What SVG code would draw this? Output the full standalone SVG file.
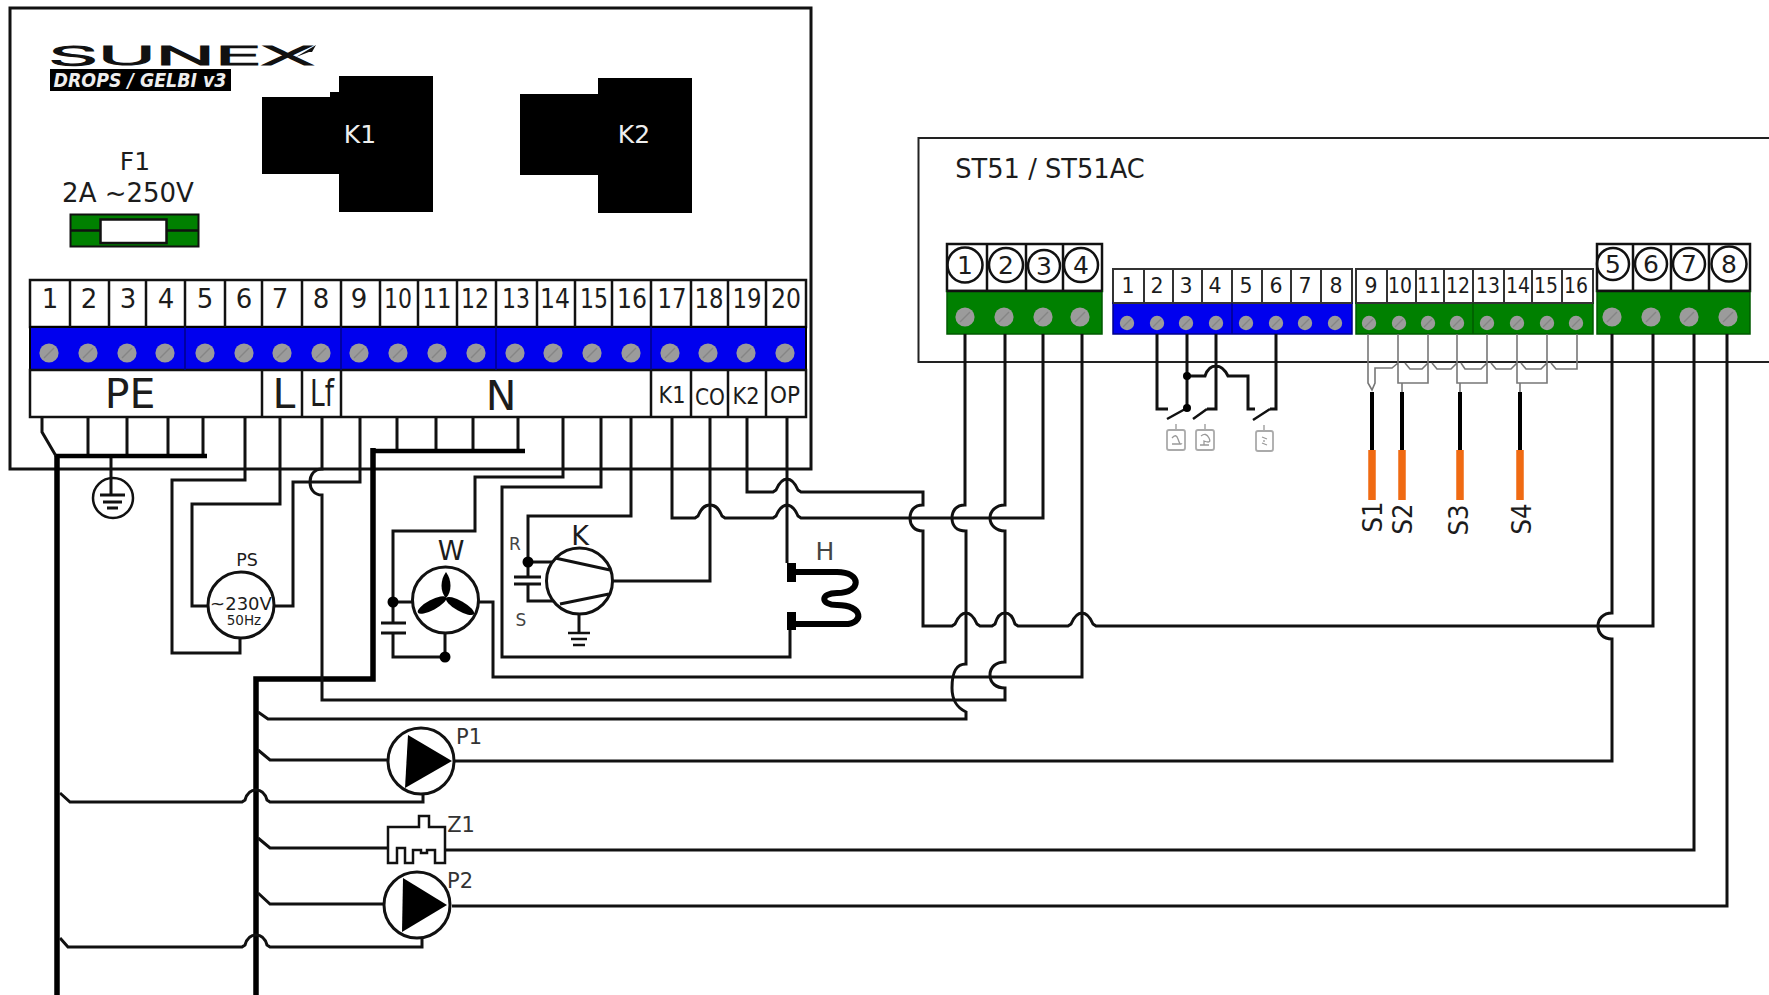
<svg xmlns="http://www.w3.org/2000/svg" width="1769" height="995" viewBox="0 0 1769 995">
<style>
text{font-family:"DejaVu Sans",sans-serif;fill:#1c1c1c;text-anchor:middle}
.n26{font-size:26px}.n20{font-size:20.5px}.n25{font-size:25px}.lab{font-size:41px}.small{font-size:23px}
.box{fill:#fff;stroke:#111;stroke-width:3}
.thin{stroke:#111;stroke-width:2.5;fill:none}
.cell{fill:#fff;stroke:#111;stroke-width:2.5}
.scell{fill:#fff;stroke:#333;stroke-width:2}
.blue{fill:#0000ee;stroke:#00008a;stroke-width:1.5}
.green{fill:#008000;stroke:#005a00;stroke-width:1.5}
.w{fill:none;stroke:#111;stroke-width:3;stroke-linejoin:miter}
.t{fill:none;stroke:#000;stroke-width:5.5}
.g{fill:none;stroke:#777;stroke-width:1.6}
.sym{fill:#fff;stroke:#111;stroke-width:3}
.rel{fill:#fff;stroke:#aaa;stroke-width:1.8}
.mk{fill:none;stroke:#999;stroke-width:1.3}
.wh{fill:#eee}
</style>
<defs>
<g id="s"><circle r="9.6" fill="#9b9b9b"/><path d="M-5 5L5-5" stroke="#858585" stroke-width="1.5"/></g>
<g id="ss"><circle r="7.2" fill="#9b9b9b"/><path d="M-4 4L4-4" stroke="#858585" stroke-width="1.3"/></g>
</defs>

<g id="controller">
<rect class="box" x="10" y="8" width="801" height="461"/>
<g id="logo">
<text x="181" y="65" font-size="25" textLength="265" lengthAdjust="spacingAndGlyphs" stroke="#111" stroke-width="1.2" style="font-family:Inter,sans-serif;font-weight:300;fill:#111">SUNEX</text>
<path d="M296 57L316 45L312 52L309 52Z" fill="#111"/>
<rect x="50" y="69" width="181" height="22" fill="#000"/>
<text class="wh" x="140" y="87" font-size="19" font-style="italic" font-weight="bold" textLength="173" lengthAdjust="spacingAndGlyphs">DROPS / GELBI v3</text>
</g>
<g id="K1"><path d="M262 97H330V92H339V76H433V212H339V174H262Z" fill="#000"/><text class="n25 wh" x="360" y="143">K1</text></g>
<g id="K2"><path d="M520 94H598V78H692V213H598V175H520Z" fill="#000"/><text class="n25 wh" x="634" y="143">K2</text></g>
<g id="F1">
<text class="n25" x="135" y="170">F1</text>
<text x="128" y="202" font-size="26">2A ~250V</text>
<rect x="70.500" y="214.500" width="128" height="32" fill="#008000" stroke="#111" stroke-width="2"/>
<path d="M70 230.500H199" stroke="#111" stroke-width="2.500"/>
<rect x="100.500" y="219.500" width="66" height="23.500" fill="#fff" stroke="#111" stroke-width="2.500"/>
</g>
</g>

<g id="main-terminal">
<rect class="cell" x="30" y="280" width="776" height="47"/>
<rect class="blue" x="30" y="327" width="776" height="43" style="stroke:#000;stroke-width:2"/>
<rect class="cell" x="30" y="370" width="776" height="47"/>
<path class="thin" d="M70 280V327M109 280V327M146 280V327M185 280V327M225 280V327M262 280V327M302 280V327M341 280V327M380 280V327M418 280V327M457 280V327M496 280V327M537 280V327M575 280V327M612 280V327M651 280V327M691 280V327M728 280V327M766 280V327M262 370V417M302 370V417M341 370V417M651 370V417M691 370V417M728 370V417M766 370V417"/>
<path d="M185 327V370M341 327V370M496 327V370M651 327V370" stroke="#00008a" stroke-width="1.500"/>
<g class="n26">
<text x="50" y="308">1</text><text x="89" y="308">2</text><text x="128" y="308">3</text><text x="166" y="308">4</text><text x="205" y="308">5</text><text x="244" y="308">6</text><text x="280" y="308">7</text><text x="321" y="308">8</text><text x="359" y="308">9</text>
<text x="398" y="308" textLength="28" lengthAdjust="spacingAndGlyphs">10</text><text x="437" y="308" textLength="29" lengthAdjust="spacingAndGlyphs">11</text><text x="475" y="308" textLength="28" lengthAdjust="spacingAndGlyphs">12</text><text x="516" y="308" textLength="28" lengthAdjust="spacingAndGlyphs">13</text><text x="555" y="308" textLength="30" lengthAdjust="spacingAndGlyphs">14</text><text x="594" y="308" textLength="28" lengthAdjust="spacingAndGlyphs">15</text><text x="632" y="308" textLength="30" lengthAdjust="spacingAndGlyphs">16</text><text x="672" y="308" textLength="29" lengthAdjust="spacingAndGlyphs">17</text><text x="709" y="308" textLength="29" lengthAdjust="spacingAndGlyphs">18</text><text x="747" y="308" textLength="29" lengthAdjust="spacingAndGlyphs">19</text><text x="786" y="308" textLength="30" lengthAdjust="spacingAndGlyphs">20</text>
</g>
<use href="#s" x="49" y="353"/><use href="#s" x="88" y="353"/><use href="#s" x="127" y="353"/><use href="#s" x="165" y="353"/><use href="#s" x="205" y="353"/><use href="#s" x="244" y="353"/><use href="#s" x="282" y="353"/><use href="#s" x="321" y="353"/><use href="#s" x="359" y="353"/><use href="#s" x="398" y="353"/><use href="#s" x="437" y="353"/><use href="#s" x="476" y="353"/><use href="#s" x="515" y="353"/><use href="#s" x="553" y="353"/><use href="#s" x="592" y="353"/><use href="#s" x="631" y="353"/><use href="#s" x="670" y="353"/><use href="#s" x="708" y="353"/><use href="#s" x="746" y="353"/><use href="#s" x="785" y="353"/>
<text class="lab" x="130" y="408">PE</text><text class="lab" x="284" y="408">L</text>
<text class="lab" x="322" y="406" textLength="24" lengthAdjust="spacingAndGlyphs" style="font-size:38px">Lf</text><text class="lab" x="501" y="410">N</text>
<text class="small" x="672" y="403" textLength="27" lengthAdjust="spacingAndGlyphs">K1</text><text class="small" x="710" y="405" textLength="30" lengthAdjust="spacingAndGlyphs">CO</text><text class="small" x="746" y="404" textLength="27" lengthAdjust="spacingAndGlyphs">K2</text><text class="small" x="785" y="403" textLength="30" lengthAdjust="spacingAndGlyphs">OP</text>
</g>

<g id="st51">
<path d="M1769 138H918.500V362H1769" fill="#fff" stroke="#222" stroke-width="2"/>
<text x="1050" y="178" font-size="25.700">ST51 / ST51AC</text>
<g id="st-block-1-4">
<rect class="cell" x="947" y="244" width="155" height="47"/>
<rect class="green" x="947" y="291" width="155" height="43"/>
<path class="thin" d="M987 244V291M1026 244V291M1063 244V291M947 291H1102"/>
<g fill="none" stroke="#111" stroke-width="2.500"><circle cx="965" cy="265" r="17.500"/><circle cx="1006" cy="265" r="17"/><circle cx="1044" cy="266" r="16"/><circle cx="1081" cy="265" r="17"/></g>
<g class="n25"><text x="965" y="274">1</text><text x="1006" y="274">2</text><text x="1044" y="275">3</text><text x="1081" y="274">4</text></g>
<use href="#s" x="965" y="317"/><use href="#s" x="1004" y="317"/><use href="#s" x="1043" y="317"/><use href="#s" x="1080" y="317"/>
</g>
<g id="st-block-blue">
<rect class="scell" x="1113" y="269" width="239" height="34"/>
<rect class="blue" x="1113" y="303" width="239" height="31"/>
<path d="M1144 269V303M1173 269V303M1202 269V303M1232 269V303M1262 269V303M1291 269V303M1321 269V303M1113 303H1352" stroke="#333" stroke-width="2"/>
<path d="M1232 303V334" stroke="#00008a" stroke-width="1.500"/>
<g class="n20"><text x="1128" y="293">1</text><text x="1157" y="293">2</text><text x="1186" y="293">3</text><text x="1215" y="293">4</text><text x="1246" y="293">5</text><text x="1276" y="293">6</text><text x="1305" y="293">7</text><text x="1336" y="293">8</text></g>
<use href="#ss" x="1127" y="323"/><use href="#ss" x="1157" y="323"/><use href="#ss" x="1186" y="323"/><use href="#ss" x="1216" y="323"/><use href="#ss" x="1246" y="323"/><use href="#ss" x="1276" y="323"/><use href="#ss" x="1305" y="323"/><use href="#ss" x="1335" y="323"/>
</g>
<g id="st-block-green">
<rect class="scell" x="1356" y="269" width="237" height="34"/>
<rect class="green" x="1356" y="303" width="237" height="31"/>
<path d="M1387 269V303M1416 269V303M1444 269V303M1473 269V303M1504 269V303M1532 269V303M1562 269V303M1356 303H1593" stroke="#333" stroke-width="2"/>
<path d="M1473 303V334" stroke="#005a00" stroke-width="1.500"/>
<g class="n20"><text x="1371" y="293">9</text><text x="1400" y="293" textLength="24" lengthAdjust="spacingAndGlyphs">10</text><text x="1429" y="293" textLength="24" lengthAdjust="spacingAndGlyphs">11</text><text x="1458" y="293" textLength="24" lengthAdjust="spacingAndGlyphs">12</text><text x="1488" y="293" textLength="24" lengthAdjust="spacingAndGlyphs">13</text><text x="1518" y="293" textLength="24" lengthAdjust="spacingAndGlyphs">14</text><text x="1546" y="293" textLength="24" lengthAdjust="spacingAndGlyphs">15</text><text x="1576" y="293" textLength="24" lengthAdjust="spacingAndGlyphs">16</text></g>
<use href="#ss" x="1369" y="323"/><use href="#ss" x="1399" y="323"/><use href="#ss" x="1428" y="323"/><use href="#ss" x="1457" y="323"/><use href="#ss" x="1487" y="323"/><use href="#ss" x="1517" y="323"/><use href="#ss" x="1547" y="323"/><use href="#ss" x="1576" y="323"/>
</g>
<g id="st-block-5-8">
<rect class="cell" x="1597" y="244" width="153" height="47"/>
<rect class="green" x="1597" y="291" width="153" height="43"/>
<path class="thin" d="M1633 244V291M1671 244V291M1709 244V291M1597 291H1750"/>
<g fill="none" stroke="#111" stroke-width="2.500"><circle cx="1613" cy="264" r="16"/><circle cx="1651" cy="264" r="16"/><circle cx="1689" cy="264" r="16"/><circle cx="1729" cy="264" r="17.500"/></g>
<g class="n25"><text x="1613" y="273">5</text><text x="1651" y="273">6</text><text x="1689" y="273">7</text><text x="1729" y="273">8</text></g>
<use href="#s" x="1612" y="317"/><use href="#s" x="1651" y="317"/><use href="#s" x="1689" y="317"/><use href="#s" x="1728" y="317"/>
</g>
</g>

<g id="connectors">
<path class="w" d="M42 417V432L56 456M88 417V456M127 417V456M168 417V456M203 417V456M111 456V495"/>
<path class="w" d="M397 417V451M436 417V451M473 417V451M518 417V451"/>
<path d="M56 456H207M373 451H525" fill="none" stroke="#000" stroke-width="4.500"/>
<path class="t" d="M57 456V995M256 995V679H373V448"/>
<path class="w" d="M245 417V480H172V653H240V637"/>
<path class="w" d="M280 417V504H192V606H208"/>
<path class="w" d="M275 606H293V482H360V417"/>
<path class="w" d="M322 417V469C314 469 310 475 310 482C310 489 314 495 322 495V700H1005V688C996 688 990 683 990 675C990 667 996 662 1005 662V531C996 531 990 525 990 518C990 511 996 505 1005 505V334"/>
<path class="w" d="M965 334V505C956 505 952 511 952 518C952 525 956 531 966 531V664C956 664 952 672 952 688C952 702 958 708 966 712V719H268L258 712"/>
<path class="w" d="M1043 334V518H801L798 516C795 509 792 505 787 505C782 505 779 509 776 516L773 518H725L722 516C719 509 716 505 710 505C704 505 701 509 698 516L695 518H672V417"/>
<path class="w" d="M1082 334V677H493V602H479"/>
<path class="w" d="M747 417V492H773L776 490C779 483 782 479 787 479C792 479 795 483 798 490L801 492H923V505C914 505 910 511 910 518C910 525 914 531 923 531V626H952L955 624C958 617 961 613 966 613C971 613 974 617 977 624L980 626H992L995 624C997 617 1000 613 1005 613C1010 613 1013 617 1015 624L1018 626H1068L1071 624C1074 617 1077 613 1082 613C1087 613 1090 617 1093 624L1096 626H1653V334"/>
<path class="w" d="M1612 334V613C1603 613 1598 619 1598 626C1598 633 1603 639 1612 639V761H455"/>
<path class="w" d="M1694 334V850H445M1727 334V906H452"/>
<path class="w" d="M710 417V581H613M787 417V563"/>
<path class="w" d="M790 630V657H502V487H601V417"/>
<path class="w" d="M563 417V477H475V531H393V623M393 633V657H445V632M393 602H412"/>
<path class="w" d="M631 417V516H528V577M528 584V601H553M528 562H553"/>
<path class="w" d="M258 750L270 760H387M258 838L270 848H388M258 893L270 904H383"/>
<path class="w" d="M60 793L70 802H242L245 800C247 793 250 790 256 790C262 790 265 793 267 800L270 802H423V793"/>
<path class="w" d="M60 938L68 947H242L245 945C247 938 250 935 256 935C262 935 265 938 267 945L270 947H422V937"/>
<path class="w" d="M1157 334V409H1168M1187 334V408M1187 376H1205C1207 370 1211 366 1216 366C1221 366 1225 370 1228 376H1248V409H1255M1216 334V409H1207M1276 334V409H1270"/>
<path class="g" d="M1368 334V383L1372 390L1375 383V368H1392L1398 363M1398 334V383H1428V334M1405 363L1410 369H1422L1428 363M1432 363L1437 369H1451L1457 363M1457 334V383H1487V334M1460 383V392M1461 363L1465 369H1481L1487 363M1491 363L1496 369H1511L1517 363M1517 334V383H1547V334M1520 383V392M1521 363L1526 369H1541L1547 363M1551 363L1556 369H1577V334M1402 383V392"/>
</g>

<g id="earth"><circle cx="113" cy="498" r="20" fill="none" stroke="#111" stroke-width="2.500"/><path d="M100 495H125M103 502H122M107 508H118" stroke="#111" stroke-width="3"/></g>
<g id="PS"><circle class="sym" cx="241" cy="605" r="33"/><text x="247" y="566" font-size="17.500">PS</text><text x="241" y="610" font-size="18">~230V</text><text x="244" y="625" font-size="13.500">50Hz</text></g>
<g id="W">
<circle class="sym" cx="445.500" cy="600" r="33"/>
<path d="M446 572C452 580 452 592 446 598C440 592 440 580 446 572Z" fill="#000"/>
<ellipse cx="432" cy="605" rx="16" ry="5" transform="rotate(-28 432 605)" fill="#000"/>
<ellipse cx="460" cy="606" rx="16" ry="5" transform="rotate(30 460 606)" fill="#000"/>
<text x="451" y="560" font-size="27">W</text>
<circle cx="393" cy="602" r="5.500" fill="#000"/><circle cx="445" cy="657" r="5.500" fill="#000"/>
<path d="M381 623H406M381 633H406" stroke="#111" stroke-width="3"/>
</g>
<g id="K">
<circle class="sym" cx="579.500" cy="581" r="33"/>
<path class="w" d="M555 558L610 570M560 604L609 594M579 613V633"/>
<path d="M568 633H590M571 639H587M573 645H585" stroke="#111" stroke-width="2.500"/>
<path d="M514 577H541M514 584H541" stroke="#111" stroke-width="3"/>
<circle cx="528" cy="562" r="5.500" fill="#000"/>
<text x="580" y="545" font-size="27">K</text>
<text x="515" y="550" font-size="17" style="fill:#444">R</text><text x="521" y="626" font-size="17" style="fill:#444">S</text>
</g>
<g id="H">
<rect x="787" y="563" width="9" height="19" fill="#000"/><rect x="787" y="612" width="9" height="18" fill="#000"/>
<path d="M796 572H837C862 572 862 593 837 593C820 593 820 605 837 605C864 605 864 624 845 624H796" fill="none" stroke="#000" stroke-width="6"/>
<text x="825" y="560" font-size="25" style="fill:#444">H</text>
</g>
<g id="P1"><circle class="sym" cx="421" cy="761" r="33"/><path d="M408 735L452 761L405 788Z" fill="#000"/><text x="469" y="744" font-size="21" style="fill:#333">P1</text></g>
<g id="Z1"><path class="sym" style="fill:#fff;stroke-width:2.500" d="M388 827H419V816H429V827H445V863H435V850H427V853H421V850H413V863H405V848H397V863H388Z"/><text x="461" y="832" font-size="21" style="fill:#333">Z1</text></g>
<g id="P2"><circle class="sym" cx="417" cy="905" r="33"/><path d="M403 878L447 905L402 932Z" fill="#000"/><text x="460" y="888" font-size="21" style="fill:#333">P2</text></g>

<g id="contacts">
<path class="w" style="stroke-width:2.500" d="M1167 419L1187 408M1193 419L1207 409M1253 420L1270 409"/>
<circle cx="1187" cy="408" r="4" fill="#000"/><circle cx="1187" cy="376" r="4" fill="#000"/>
<path class="g" style="stroke:#aaa" d="M1176 424V430M1205 424V430M1264 425V431"/>
<rect class="rel" x="1167" y="430" width="18" height="20" rx="2"/><rect class="rel" x="1196" y="430" width="18" height="20" rx="2"/><rect class="rel" x="1256" y="431" width="17" height="20" rx="2"/>
<path class="mk" d="M1172 438Q1176 433 1178 439T1181 444H1172M1201 436Q1206 432 1209 438T1204 441V445M1200 445H1209M1262 437L1267 439M1262 443L1267 445M1264 440V442"/>
</g>

<g id="sensors">
<path d="M1372 392V450M1402 392V450M1460 392V450M1520 392V450" stroke="#000" stroke-width="4"/>
<path d="M1372 450V500M1402 450V500M1460 450V500M1520 450V500" stroke="#f06a12" stroke-width="7.500"/>
<g font-size="27">
<text transform="translate(1382 517) rotate(-90)" textLength="31" lengthAdjust="spacingAndGlyphs">S1</text>
<text transform="translate(1412 519) rotate(-90)" textLength="31" lengthAdjust="spacingAndGlyphs">S2</text>
<text transform="translate(1468 520) rotate(-90)" textLength="31" lengthAdjust="spacingAndGlyphs">S3</text>
<text transform="translate(1531 519) rotate(-90)" textLength="31" lengthAdjust="spacingAndGlyphs">S4</text>
</g>
</g>
</svg>
